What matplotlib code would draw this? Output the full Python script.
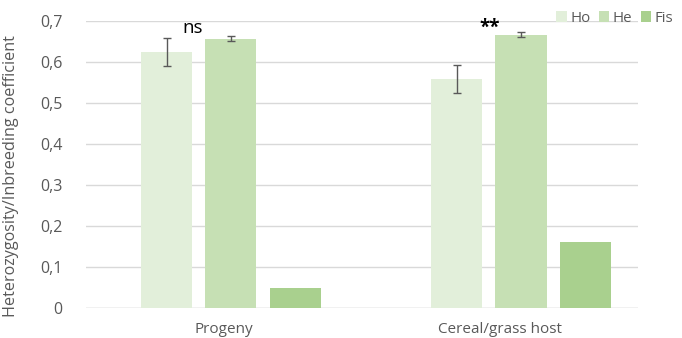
import matplotlib
matplotlib.use("Agg")
import matplotlib.pyplot as plt
import numpy as np

plt.rcParams['font.family'] = ['Open Sans', 'DejaVu Sans']

categories = ["Progeny", "Cereal/grass host"]
series = ["Ho", "He", "Fis"]
ho = [0.624, 0.559]
he = [0.657, 0.667]
fis = [0.049, 0.161]
ho_err = [0.034, 0.034]
he_err = [0.006, 0.005]
signif = ["ns", "**"]
yticks = [0, 0.1, 0.2, 0.3, 0.4, 0.5, 0.6, 0.7]
ytick_labels = ["0", "0,1", "0,2", "0,3", "0,4", "0,5", "0,6", "0,7"]

colors = ["#e2efda", "#c6e0b4", "#a9d08e"]
text_col = "#595959"

fig = plt.figure(figsize=(6.82, 3.38), dpi=100)
ax = fig.add_axes([86/682, 1-308/338, (638-86)/682, (308-21)/338])

group_pos = np.array([0.525, 1.576])
offsets = [-0.233, 0.0, 0.233]
width = 0.185

vals = [ho, he, fis]
errs = [ho_err, he_err, None]
for i, (v, c) in enumerate(zip(vals, colors)):
    x = group_pos + offsets[i]
    ax.bar(x, v, width, color=c, label=series[i], zorder=2)
    if errs[i] is not None:
        ax.errorbar(x, v, yerr=errs[i], fmt='none', ecolor="#595959",
                    elinewidth=1, capsize=3, capthick=1, zorder=3)

sig_dx = [-0.14, -0.112]
for gp, dx, s in zip(group_pos, sig_dx, signif):
    ax.text(gp + dx, 0.683, s, ha='center', va='center', fontsize=13.5,
            color='black', fontweight='bold' if s == "**" else 'normal',
            zorder=4)

ax.set_xlim(0, 2)
ax.set_ylim(0, 0.7)
ax.set_xticks([0.5, 1.5])
ax.set_xticklabels(categories, fontsize=11, color=text_col)
ax.set_yticks(yticks)
ax.set_yticklabels(ytick_labels, fontsize=11.5, color=text_col)
ax.tick_params(length=0, pad=17)
ax.tick_params(axis='x', pad=10)
ax.yaxis.grid(True, color="#d9d9d9", linewidth=1, zorder=0)
ax.set_axisbelow(True)
for sp in ax.spines.values():
    sp.set_visible(False)
ax.axhline(0, color="#d9d9d9", linewidth=1, zorder=1)

ax.set_ylabel("Heterozygosity/Inbreeding coefficient", fontsize=11.6,
              color=text_col)
ax.yaxis.set_label_coords(-67/552, (308-176.5)/287)

leg = ax.legend(loc='center left', bbox_to_anchor=((556-86)/552, (308-18)/287),
                ncol=3, frameon=False, fontsize=10.8, handlelength=0.7,
                handleheight=0.7, handletextpad=0.25, columnspacing=0.55,
                labelcolor=text_col, borderaxespad=0, borderpad=0)

fig.savefig("out.png", dpi=100)
